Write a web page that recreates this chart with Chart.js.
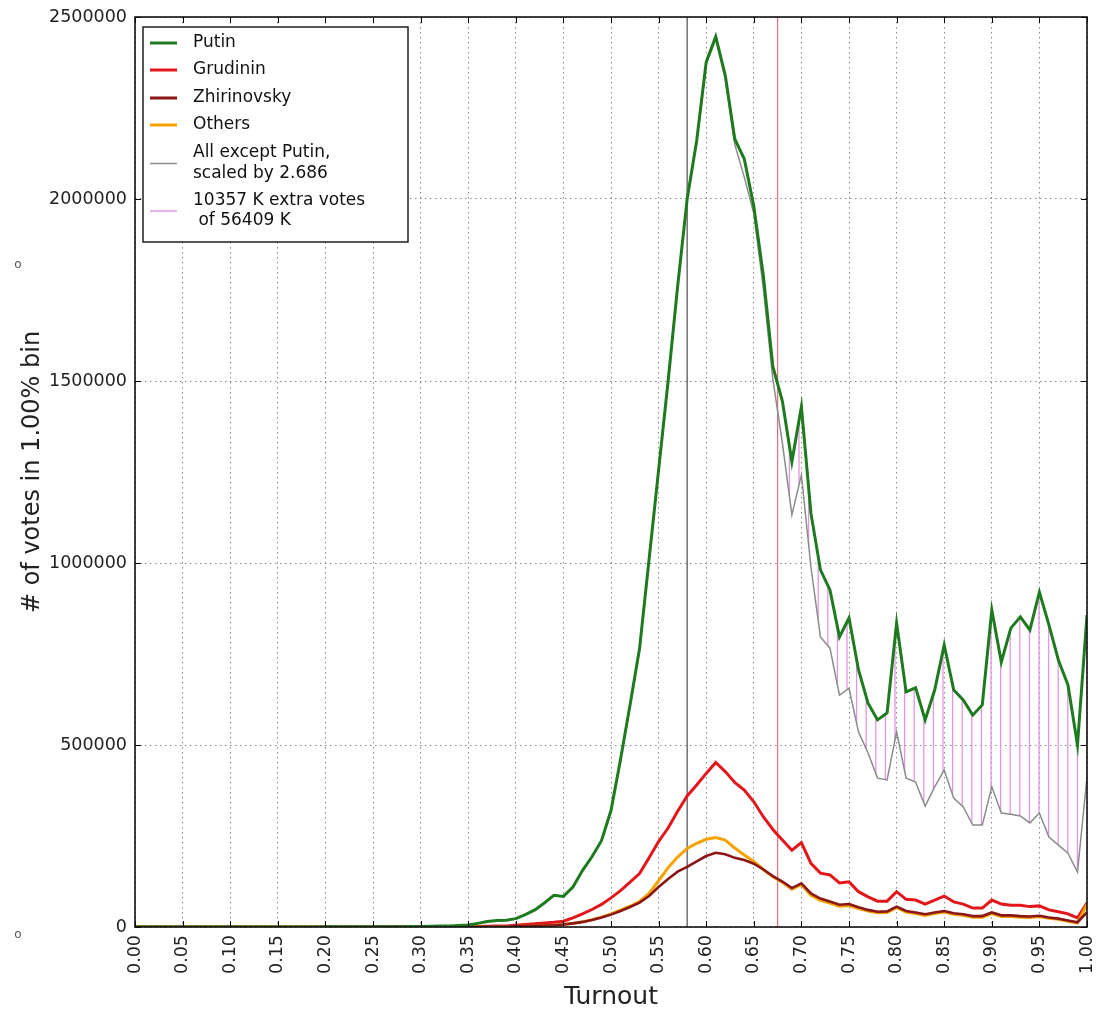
<!DOCTYPE html>
<html><head><meta charset="utf-8">
<script src="https://cdn.jsdelivr.net/npm/chart.js@4.4.0/dist/chart.umd.min.js"></script>
<style>html,body{margin:0;padding:0;background:#fff;}canvas{display:block;}</style>
</head><body>
<canvas id="c" width="1099" height="1012" style="width:1099px;height:1012px"></canvas>
<script>
const turnout = [0.00,0.01,0.02,0.03,0.04,0.05,0.06,0.07,0.08,0.09,0.10,0.11,0.12,0.13,0.14,0.15,0.16,0.17,0.18,0.19,
0.20,0.21,0.22,0.23,0.24,0.25,0.26,0.27,0.28,0.29,0.30,0.31,0.32,0.33,0.34,0.35,0.36,0.37,0.38,0.39,
0.40,0.41,0.42,0.43,0.44,0.45,0.46,0.47,0.48,0.49,0.50,0.51,0.52,0.53,0.54,0.55,0.56,0.57,0.58,0.59,
0.60,0.61,0.62,0.63,0.64,0.65,0.66,0.67,0.68,0.69,0.70,0.71,0.72,0.73,0.74,0.75,0.76,0.77,0.78,0.79,
0.80,0.81,0.82,0.83,0.84,0.85,0.86,0.87,0.88,0.89,0.90,0.91,0.92,0.93,0.94,0.95,0.96,0.97,0.98,0.99,1.00];

const putin = [0,0,0,0,0,0,0,0,0,0,0,0,0,0,0,0,200,200,300,300,
400,400,500,500,600,700,800,900,1000,1200,1500,2000,2500,3000,4000,5500,10000,15000,18000,18500,
23000,34000,47000,66000,87000,84000,110000,155000,193000,237000,320000,460000,610000,765000,1010000,1255000,1500000,1760000,2000000,2160000,
2376000,2446000,2340000,2165000,2110000,1980000,1790000,1540000,1445000,1278000,1429000,1137000,981000,926000,797000,849000,706000,615000,569000,588000,
835000,646000,657000,569000,651000,775000,651000,624000,582000,610000,871000,728000,821000,852000,816000,920000,830000,733000,665000,500000,857000];

const grudinin = [0,0,0,0,0,0,0,0,0,0,0,0,0,0,0,0,0,100,100,100,
100,200,200,200,300,300,400,400,500,500,600,700,800,900,1000,1000,1500,2000,2500,3000,
5000,7000,9000,11000,13000,16000,25000,36000,48000,62000,80000,100000,123000,147000,190000,235000,272000,318000,360000,390000,
422000,452000,427000,397000,376000,344000,303000,268000,239000,211000,232000,175000,148000,143000,121000,124000,97000,83000,71000,71000,
97000,76000,74000,63000,74000,85000,69000,63000,52000,52000,74000,63000,60000,60000,56000,58000,47000,42000,36000,25000,66000];

const zhirinovsky = [0,0,0,0,0,0,0,0,0,0,0,0,0,0,0,0,0,0,0,0,
100,100,100,100,100,200,200,200,300,300,300,400,400,500,600,700,800,1000,1200,1500,
2000,2500,3000,4000,5000,7000,10000,14000,19000,26000,34000,44000,55000,67000,85000,110000,132000,152000,165000,180000,
195000,204000,200000,190000,184000,174000,158000,140000,125000,107000,120000,92000,78000,70000,61000,63000,54000,47000,42000,43000,
56000,44000,40000,35000,40000,44000,38000,35000,30000,30000,40000,32000,32000,30000,29000,31000,26000,23000,18000,13000,40000];

const others = [0,0,0,0,0,0,0,0,0,0,0,0,0,0,0,0,0,0,0,0,
100,100,100,100,100,200,200,200,300,300,300,300,400,500,600,700,800,900,1100,1300,
1500,2000,3000,4000,5000,7000,10000,14000,20000,27000,36000,46000,57000,70000,92000,127000,163000,192000,216000,230000,
241000,246000,239000,217000,198000,180000,158000,138000,123000,104000,117000,87000,73000,66000,57000,59000,51000,44000,39000,40000,
53000,41000,37000,32000,37000,41000,35000,32000,27000,27000,37000,29000,29000,27000,26000,29000,24000,21000,16000,11000,62000];

const allExceptPutinScaled = [0,0,0,0,0,0,0,0,0,0,0,0,0,0,0,0,200,200,300,300,
400,400,500,500,600,700,800,900,1000,1200,1500,2000,2500,3000,4000,5500,10000,15000,18000,18500,
23000,34000,47000,66000,87000,84000,110000,155000,193000,237000,320000,460000,610000,765000,1010000,1255000,1500000,1760000,2000000,2160000,
2370000,2440000,2330000,2150000,2060000,1960000,1755000,1505000,1330000,1132000,1242000,989000,797000,766000,637000,656000,536000,478000,409000,404000,
536000,409000,398000,332000,385000,431000,354000,330000,280000,280000,385000,313000,310000,305000,286000,313000,247000,225000,203000,151000,412000];

const yTicks = [0, 500000, 1000000, 1500000, 2000000, 2500000];
const meanLine = 0.58;      // dark vertical line
const thresholdLine = 0.675; // red vertical line
const legendLabels = ['Putin', 'Grudinin', 'Zhirinovsky', 'Others', ['All except Putin,', 'scaled by 2.686'], ['10357 K extra votes', ' of 56409 K']];

const FONT = "'DejaVu Sans', 'Liberation Sans', sans-serif";
const C_PUTIN = '#1e7a1e', C_GRUD = '#e3171b', C_ZHIR = '#8a1616', C_OTH = '#f5a300', C_GRAY = '#8c8c8c', C_HATCH = '#e595e5';

function pts(arr) { return arr.map((v, i) => ({x: turnout[i], y: v})); }
const tail = putin.map((v, i) => ({x: turnout[i], y: turnout[i] > thresholdLine ? v : null}));

// hatch pattern: vertical pink lines
const pc = document.createElement('canvas');
pc.width = 48; pc.height = 8;
const pctx = pc.getContext('2d');
pctx.strokeStyle = C_HATCH; pctx.lineWidth = 1.3;
for (let k = 0; k < 5; k++) { const xx = 2.2 + k * 9.6; pctx.beginPath(); pctx.moveTo(xx, 0); pctx.lineTo(xx, 8); pctx.stroke(); }
const ctx0 = document.getElementById('c').getContext('2d');
const hatch = ctx0.createPattern(pc, 'repeat');

const framePlugin = {
  id: 'frame',
  afterDraw(chart) {
    const {ctx, chartArea: a, scales: {x, y}} = chart;
    ctx.save();
    ctx.strokeStyle = '#000'; ctx.lineWidth = 1;
    const ln = (x1, y1, x2, y2) => { ctx.beginPath(); ctx.moveTo(x1, y1); ctx.lineTo(x2, y2); ctx.stroke(); };
    x.ticks.forEach(t => { const p = Math.round(x.getPixelForValue(t.value)) + 0.5; ln(p, a.bottom, p, a.bottom - 6); ln(p, a.top, p, a.top + 6); });
    y.ticks.forEach(t => { const p = Math.round(y.getPixelForValue(t.value)) + 0.5; ln(a.left, p, a.left + 6, p); ln(a.right, p, a.right - 6, p); });
    ctx.lineWidth = 1.6; ctx.strokeStyle = '#111';
    ctx.strokeRect(a.left, a.top, a.right - a.left, a.bottom - a.top);

    // legend box
    const bx = a.left + 8, by = a.top + 10, bw = 265, bh = 215;
    ctx.fillStyle = '#fff'; ctx.fillRect(bx, by, bw, bh);
    ctx.lineWidth = 1.4; ctx.strokeStyle = '#111'; ctx.strokeRect(bx, by, bw, bh);
    const items = [
      {c: C_PUTIN, w: 3, ys: [16]},
      {c: C_GRUD, w: 3, ys: [43]},
      {c: C_ZHIR, w: 3, ys: [71]},
      {c: C_OTH, w: 3, ys: [98]},
      {c: C_GRAY, w: 1.5, ys: [126, 147]},
      {c: C_HATCH, w: 1.5, ys: [174, 194]}
    ];
    ctx.font = '17px ' + FONT; ctx.textBaseline = 'middle'; ctx.fillStyle = '#111';
    items.forEach((it, i) => {
      const lab = legendLabels[i];
      const lines = Array.isArray(lab) ? lab : [lab];
      const mid = (it.ys[0] + it.ys[it.ys.length - 1]) / 2;
      ctx.strokeStyle = it.c; ctx.lineWidth = it.w;
      ln(bx + 7, by + mid, bx + 34, by + mid);
      lines.forEach((t, j) => ctx.fillText(t, bx + 50, by + it.ys[j]));
    });
    // stray marks at the left margin
    ctx.font = '12px ' + FONT; ctx.fillStyle = '#555'; ctx.textAlign = 'center';
    ctx.fillText('o', 18, 265); ctx.fillText('o', 18, 935);
    ctx.restore();
  }
};

new Chart(ctx0, {
  type: 'line',
  data: {
    datasets: [
      {label: 'Putin', data: pts(putin), borderColor: C_PUTIN, borderWidth: 3, pointRadius: 0, order: 0, fill: false},
      {label: 'Grudinin', data: pts(grudinin), borderColor: C_GRUD, borderWidth: 3, pointRadius: 0, order: 3, fill: false},
      {label: 'Zhirinovsky', data: pts(zhirinovsky), borderColor: C_ZHIR, borderWidth: 2.6, pointRadius: 0, order: 1, fill: false},
      {label: 'Others', data: pts(others), borderColor: C_OTH, borderWidth: 3, pointRadius: 0, order: 2, fill: false},
      {label: 'All except Putin, scaled by 2.686', data: pts(allExceptPutinScaled), borderColor: C_GRAY, borderWidth: 1.5, pointRadius: 0, order: 4, fill: false},
      {label: 'extra votes', data: tail, borderWidth: 0, borderColor: 'rgba(0,0,0,0)', pointRadius: 0, order: 5, spanGaps: false,
        fill: {target: 4, above: hatch, below: 'rgba(0,0,0,0)'}},
      {label: 'mean', data: [{x: meanLine, y: yTicks[0]}, {x: meanLine, y: yTicks[yTicks.length - 1]}], borderColor: '#5a5a5a', borderWidth: 1.3, pointRadius: 0, order: 6, fill: false},
      {label: 'threshold', data: [{x: thresholdLine, y: yTicks[0]}, {x: thresholdLine, y: yTicks[yTicks.length - 1]}], borderColor: '#ea7480', borderWidth: 1.3, pointRadius: 0, order: 6, fill: false}
    ]
  },
  options: {
    responsive: false,
    animation: false,
    layout: {padding: {left: 0, right: 12, top: 17, bottom: 0}},
    plugins: {legend: {display: false}, tooltip: {enabled: false}, filler: {propagate: false}},
    elements: {line: {tension: 0}},
    scales: {
      x: {
        type: 'linear', min: 0, max: 1,
        afterFit: s => { s.height = 85; s.paddingLeft = 0; s.paddingRight = 0; },
        grid: {color: '#8a8a8a', lineWidth: 1, drawTicks: false, borderDash: [1.5, 3.5]},
        border: {display: false, dash: [1.5, 3.5]},
        ticks: {stepSize: 0.05, autoSkip: false, minRotation: 90, maxRotation: 90, padding: 8, color: '#222',
          font: {family: FONT, size: 17.5}, callback: v => Number(v).toFixed(2)},
        title: {display: true, text: 'Turnout', color: '#222', font: {family: FONT, size: 25}, padding: {top: 0, bottom: 0}}
      },
      y: {
        min: yTicks[0], max: yTicks[yTicks.length - 1],
        afterFit: s => { s.width = 135; s.paddingTop = 0; s.paddingBottom = 0; },
        afterBuildTicks: s => { s.ticks = yTicks.map(v => ({value: v})); },
        grid: {color: '#8a8a8a', lineWidth: 1, drawTicks: false, borderDash: [1.5, 3.5]},
        border: {display: false, dash: [1.5, 3.5]},
        ticks: {padding: 8, color: '#222', font: {family: FONT, size: 17.5}, callback: v => String(v)},
        title: {display: true, text: '# of votes in 1.00% bin', color: '#222', font: {family: FONT, size: 24}, padding: {top: 18, bottom: 0}}
      }
    }
  },
  plugins: [framePlugin]
});
</script>
</body></html>
